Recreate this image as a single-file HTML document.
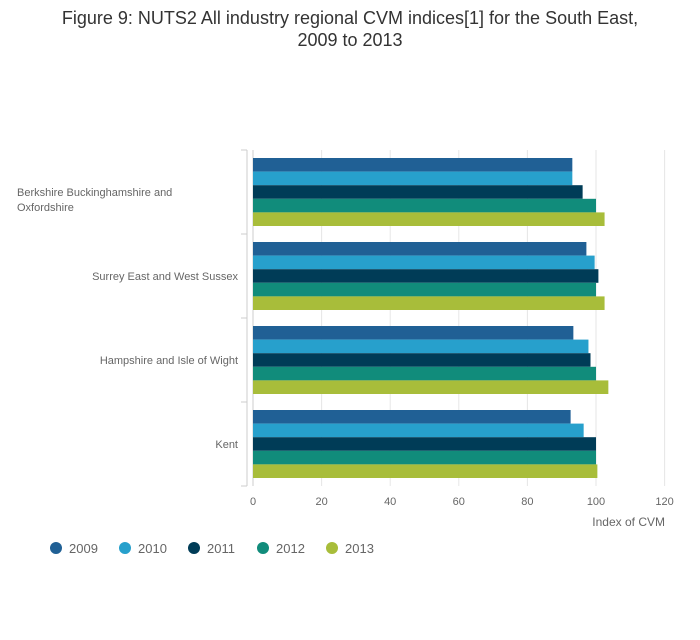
<!DOCTYPE html>
<html><head><meta charset="utf-8"><style>
body{margin:0;background:#fff;font-family:"Liberation Sans",sans-serif;}
svg text{font-family:"Liberation Sans",sans-serif;}
</style></head><body>
<svg id="chart" width="700" height="635">
<text x="350" y="24" text-anchor="middle" font-size="18" fill="#333">Figure 9: NUTS2 All industry regional CVM indices[1] for the South East,</text>
<text x="350" y="46" text-anchor="middle" font-size="18" fill="#333">2009 to 2013</text>
<g id="grid"></g><g id="bars"></g><g id="axes"></g><g id="legend"></g>
</svg>
<script>
const categories=["Berkshire Buckinghamshire and|Oxfordshire","Surrey East and West Sussex","Hampshire and Isle of Wight","Kent"];
const series=["2009","2010","2011","2012","2013"];
const colors=["#206095","#27a0cc","#003c57","#118c7b","#a8bd3a"];
const v2009=[93.1,97.2,93.4,92.6];
const v2010=[93.1,99.6,97.8,96.4];
const v2011=[96.1,100.7,98.4,100];
const v2012=[100,100,100,100];
const v2013=[102.5,102.5,103.6,100.4];
const ticks=[0,20,40,60,80,100,120];
const values=[v2009,v2010,v2011,v2012,v2013];
const NS="http://www.w3.org/2000/svg";
const x0=253,pxu=3.43,topY=150,band=84;
const xs=v=>x0+v*pxu;
function mk(t,a,p){const e=document.createElementNS(NS,t);for(const k in a)e.setAttribute(k,a[k]);p.appendChild(e);return e;}
const grid=document.getElementById('grid'),bars=document.getElementById('bars'),axes=document.getElementById('axes'),legend=document.getElementById('legend');
ticks.forEach(t=>{
 const l=mk('line',{x1:xs(t),x2:xs(t),y1:topY,y2:topY+band*4,stroke:t===0?'#ccc':'#e6e6e6','stroke-width':1},grid);
 
 
 const tx=mk('text',{x:xs(t),y:505,'text-anchor':'middle','font-size':11,fill:'#666'},axes);tx.textContent=t;
 
 
});
const yl=mk('line',{x1:247,x2:247,y1:topY,y2:topY+band*4,stroke:'#ccc'},axes);


for(let i=0;i<=4;i++){const tk=mk('line',{x1:241,x2:247,y1:topY+i*band,y2:topY+i*band,stroke:'#ccc'},axes);
 
 }
const bh=(band-16)/5;
categories.forEach((c,i)=>{
 const lines=c.split('|');const cy=topY+i*band+band/2;
 if(lines.length>1){lines.forEach((ln,j)=>{const t=mk('text',{x:17,y:cy+(j===0?4:19),'font-size':11,fill:'#666'},axes);t.textContent=ln;
  
  });}
 else{const t=mk('text',{x:238,y:cy+4,'text-anchor':'end','font-size':11,fill:'#666'},axes);t.textContent=c;
  
  }
 values.forEach((arr,s)=>{const r=mk('rect',{x:xs(0),y:topY+i*band+8+s*bh,width:xs(arr[i])-xs(0),height:bh,fill:colors[s]},bars);
  
  });
});
const xt=mk('text',{x:665,y:526,'text-anchor':'end','font-size':12,fill:'#666'},axes);xt.textContent='Index of CVM';


const lx=[56,125,194,263,332];
series.forEach((s,i)=>{const g=mk('g',{},legend);
 
 
 mk('circle',{cx:lx[i],cy:548,r:6,fill:colors[i]},g);
 const t=mk('text',{x:lx[i]+13,y:553,'font-size':13,fill:'#666'},g);t.textContent=s;});
</script>
</body></html>
